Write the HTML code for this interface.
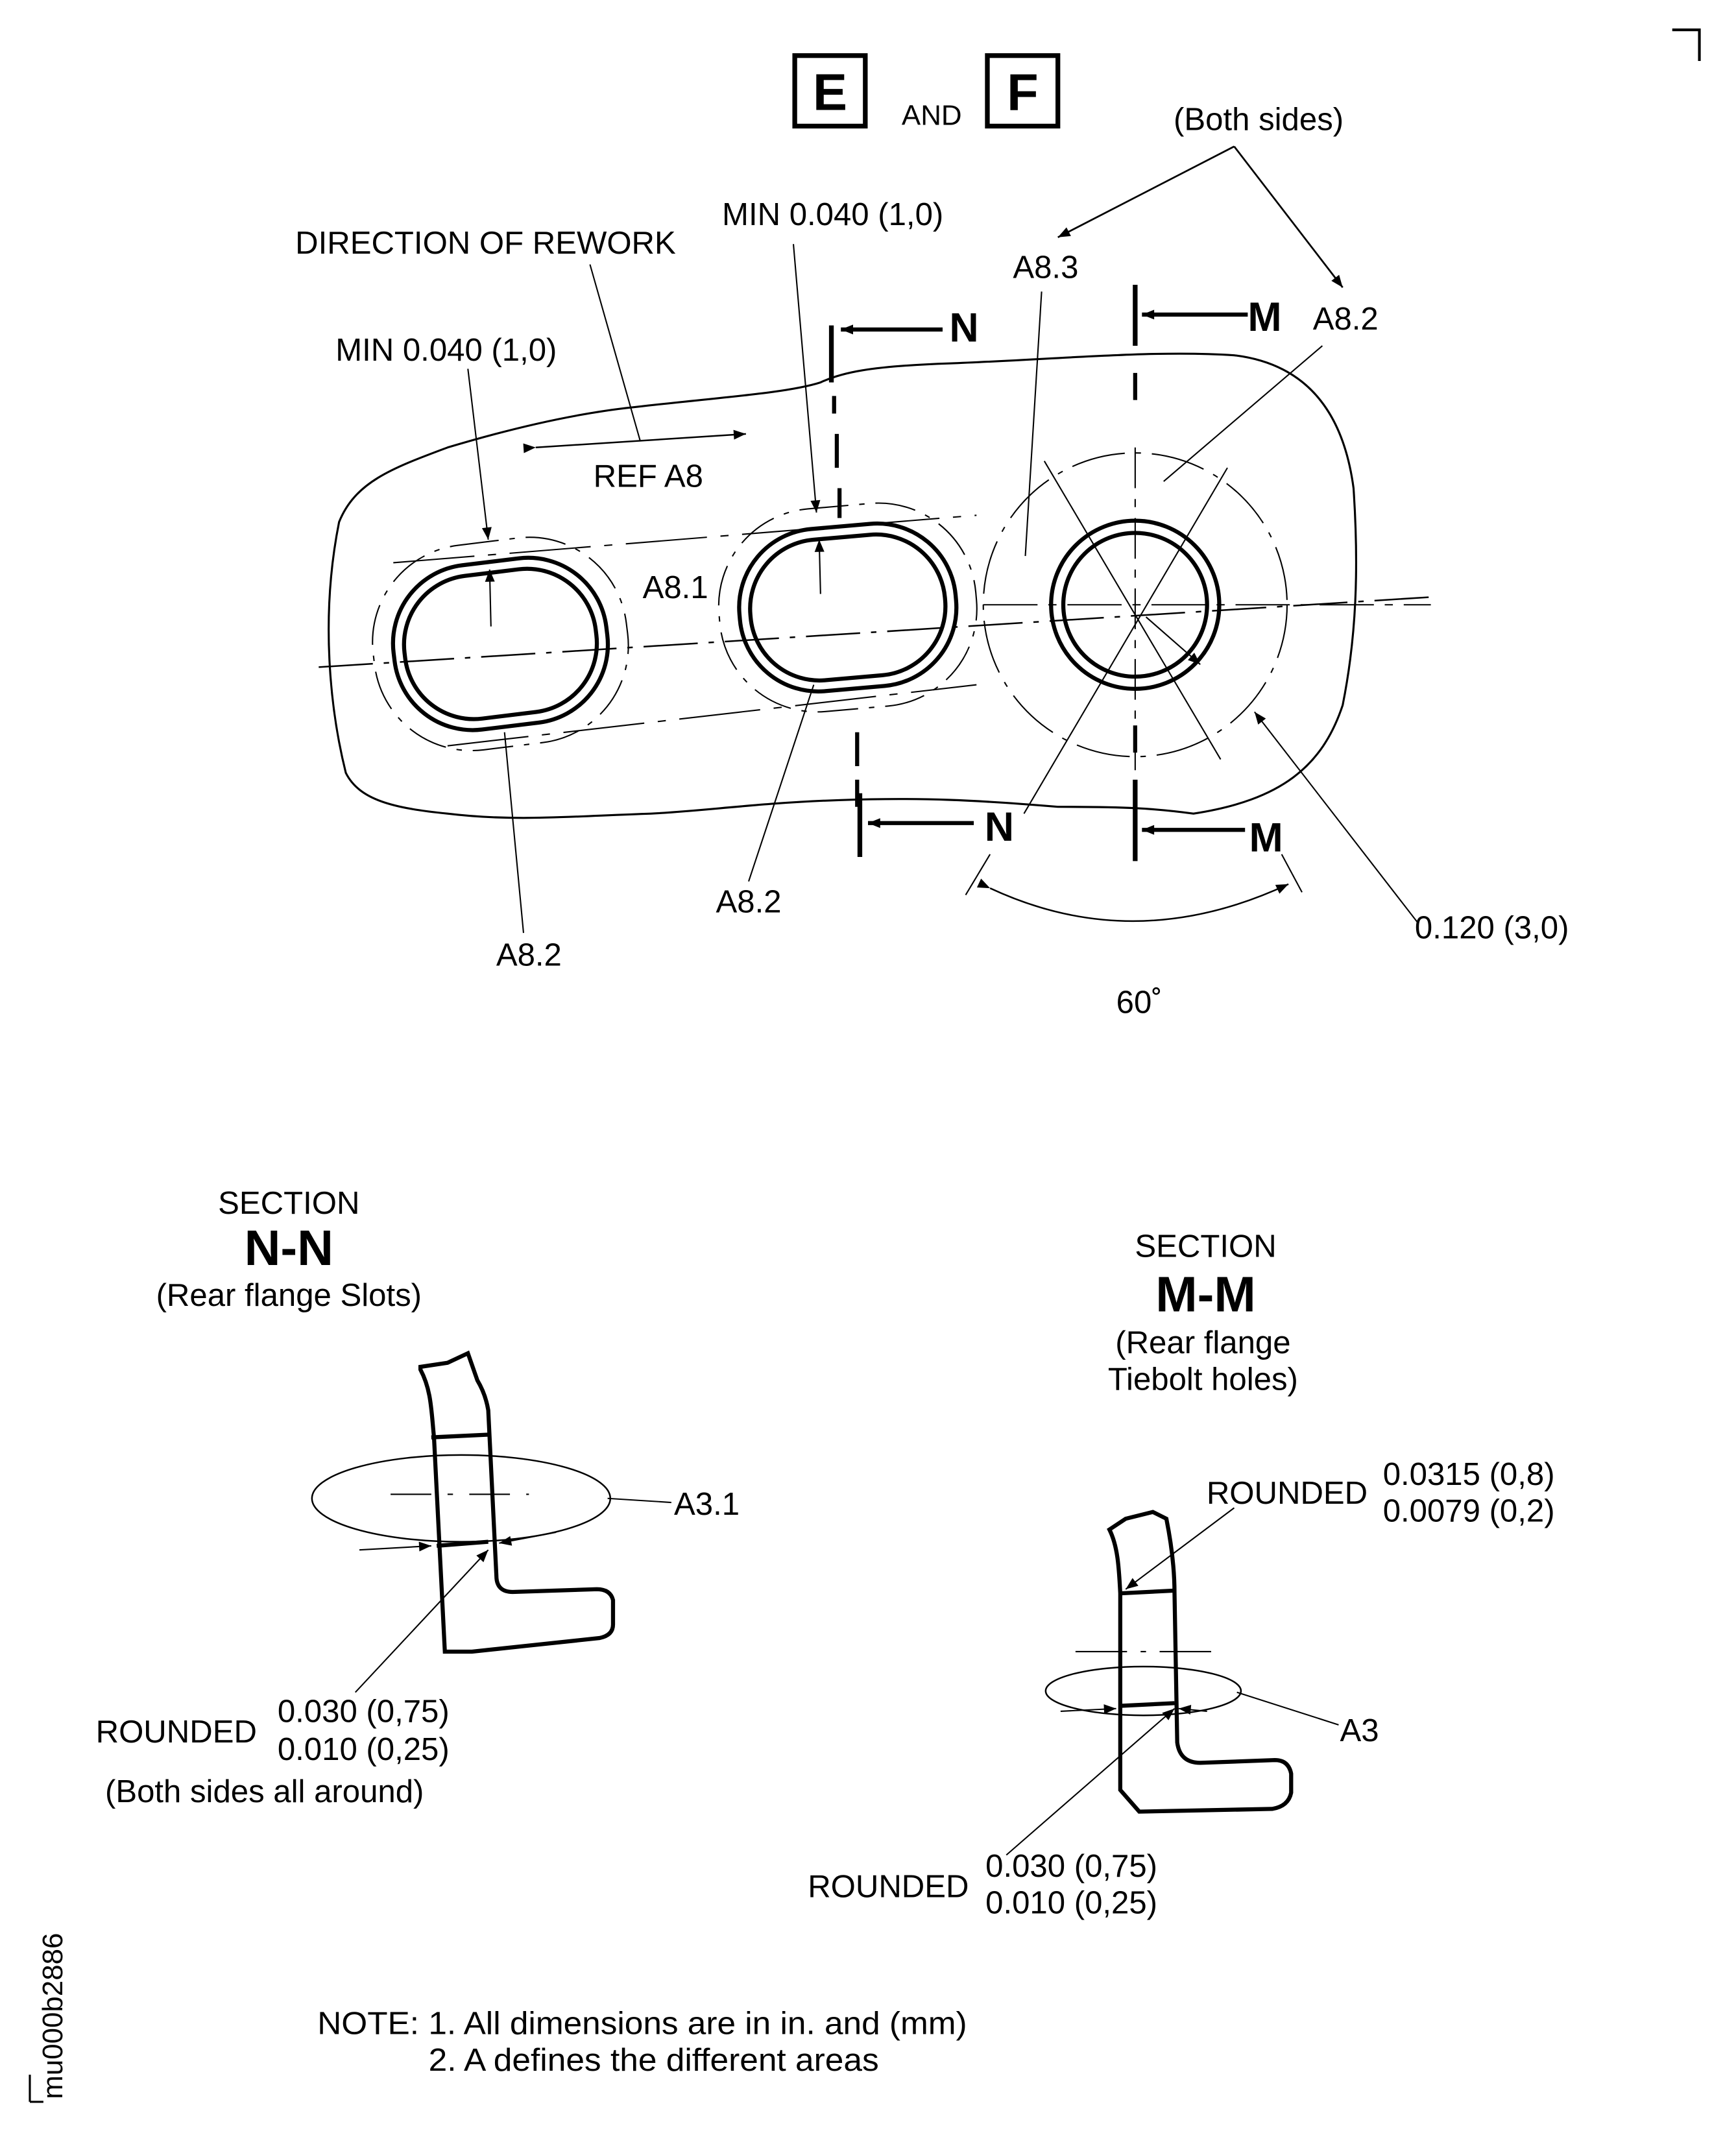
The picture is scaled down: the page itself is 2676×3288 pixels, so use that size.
<!DOCTYPE html>
<html><head><meta charset="utf-8"><style>
html,body{margin:0;padding:0;background:#fff}
svg{display:block}
text{font-family:"Liberation Sans",sans-serif;fill:#000}
</style></head><body>
<svg width="2676" height="3288" viewBox="0 0 1280 1573" preserveAspectRatio="none" xmlns="http://www.w3.org/2000/svg">
<defs>
<marker id="a" viewBox="0 0 10 10" refX="10" refY="5" markerWidth="18" markerHeight="9" markerUnits="userSpaceOnUse" orient="auto"><path d="M0,1 L10,5 L0,9 Z" fill="#000"/></marker>
</defs>
<g fill="none" stroke="#000">
<path d="M1233,22 H1253 V45" stroke-width="2"/>
<rect x="586" y="41" width="52" height="52" stroke-width="3.5"/>
<rect x="728" y="41" width="52" height="52" stroke-width="3.5"/>
<path d="M910,108 L780,175" stroke-width="1.3" marker-end="url(#a)"/>
<path d="M910,108 L990,212" stroke-width="1.3" marker-end="url(#a)"/>
<path d="M250,385 C262,355 290,345 330,330 C370,318 420,305 470,300 C530,293 580,290 605,282 C620,275 640,270 700,268 C780,265 850,258 910,262 C960,268 990,300 998,360 C1002,420 1000,470 990,520 C975,565 945,590 880,600 C850,596 830,595 780,595 C720,590 680,588 620,590 C560,592 520,598 480,600 C420,602 380,606 330,600 C290,596 265,590 255,570 C245,530 235,460 250,385 Z" stroke-width="1.5"/>
<g transform="rotate(-7 368 475)">
<rect x="290" y="414" width="158" height="122" rx="58" stroke-width="3"/>
<rect x="298" y="422" width="142" height="106" rx="51" stroke-width="3"/>
<rect x="275" y="399" width="188" height="152" rx="72" stroke-width="1" stroke-dasharray="30 8 4 8"/>
</g>
<g transform="rotate(-5 625 447)">
<rect x="545" y="388" width="160" height="120" rx="58" stroke-width="3"/>
<rect x="553" y="396" width="144" height="104" rx="51" stroke-width="3"/>
<rect x="530" y="373" width="190" height="150" rx="72" stroke-width="1" stroke-dasharray="30 8 4 8"/>
</g>
<path d="M235,492 L1060,440" stroke-width="1.2" stroke-dasharray="40 8 4 8"/>
<path d="M290,415 L720,380" stroke-width="1" stroke-dasharray="60 10 6 10"/>
<path d="M330,550 L720,505" stroke-width="1" stroke-dasharray="60 10 6 10"/>
<circle cx="837" cy="446" r="62" stroke-width="3"/>
<circle cx="837" cy="446" r="53" stroke-width="3"/>
<circle cx="837" cy="446" r="112" stroke-width="1" stroke-dasharray="40 8 4 8"/>
<path d="M725,446 H1055" stroke-width="1" stroke-dasharray="40 8 6 8"/>
<path d="M837,330 V570" stroke-width="1" stroke-dasharray="30 8 6 8"/>
<path d="M770,340 L900,560 M905,345 L755,600" stroke-width="1"/>
<path d="M845,455 L885,490" stroke-width="1" marker-end="url(#a)"/>
<path d="M1045,680 L925,525" stroke-width="1" marker-end="url(#a)"/>
<path d="M613,240 V282" stroke-width="3.5"/>
<path d="M615,292 V305 M617,320 V345 M619,360 V382" stroke-width="3"/>
<path d="M632,540 V565 M632,575 V595" stroke-width="3"/>
<path d="M634,585 V632" stroke-width="3.5"/>
<path d="M695,243 H620" stroke-width="3" marker-end="url(#a)"/>
<path d="M718,607 H640" stroke-width="3" marker-end="url(#a)"/>
<path d="M837,210 V255 M837,575 V635" stroke-width="3.5"/>
<path d="M837,275 V295 M837,535 V555" stroke-width="3"/>
<path d="M920,232 H842" stroke-width="3" marker-end="url(#a)"/>
<path d="M918,612 H842" stroke-width="3" marker-end="url(#a)"/>
<path d="M435,195 L472,325" stroke-width="1"/>
<path d="M395,330 L550,320" stroke-width="1.2" marker-start="url(#a)" marker-end="url(#a)"/>
<path d="M345,272 L360,398" stroke-width="1" marker-end="url(#a)"/>
<path d="M362,462 L361,420" stroke-width="1" marker-end="url(#a)"/>
<path d="M585,180 L602,378" stroke-width="1" marker-end="url(#a)"/>
<path d="M605,438 L604,398" stroke-width="1" marker-end="url(#a)"/>
<path d="M768,215 L756,410" stroke-width="1"/>
<path d="M975,255 L858,355" stroke-width="1"/>
<path d="M372,540 L386,688" stroke-width="1"/>
<path d="M600,505 L552,650" stroke-width="1"/>
<path d="M730,655 Q837,705 950,652" stroke-width="1.2" marker-start="url(#a)" marker-end="url(#a)"/>
<path d="M712,660 L730,630 M960,658 L945,630" stroke-width="1"/>

<path d="M310,1010 C318,1025 318,1040 320,1060 L328,1218 L348,1218 L442,1208 Q452,1206 452,1198 L452,1180 Q450,1172 440,1172 L378,1174 Q366,1174 366,1162 L360,1040 Q358,1028 352,1018 L345,998 L330,1005 L310,1008 Z" stroke-width="3"/>
<path d="M318,1060 L360,1058 M322,1140 L360,1137" stroke-width="3"/>
<ellipse cx="340" cy="1105" rx="110" ry="32" stroke-width="1.2"/>
<path d="M288,1102 H390" stroke-width="1" stroke-dasharray="30 12 4 12"/>
<path d="M448,1105 L495,1108" stroke-width="1"/>
<path d="M265,1143 L318,1140" stroke-width="1" marker-end="url(#a)"/>
<path d="M410,1130 L368,1138" stroke-width="1" marker-end="url(#a)"/>
<path d="M262,1248 L360,1143" stroke-width="1" marker-end="url(#a)"/>

<path d="M818,1128 C824,1140 825,1155 826,1175 L826,1320 L840,1336 L938,1334 Q950,1332 952,1322 L952,1308 Q950,1298 940,1298 L885,1300 Q870,1300 868,1285 L866,1175 Q866,1150 860,1120 L850,1115 L830,1120 Z" stroke-width="3"/>
<path d="M826,1175 L866,1173 M826,1258 L866,1256" stroke-width="3"/>
<path d="M793,1218 H900" stroke-width="1" stroke-dasharray="38 10 4 10"/>
<ellipse cx="843" cy="1247" rx="72" ry="18" stroke-width="1.2"/>
<path d="M912,1248 L987,1272" stroke-width="1"/>
<path d="M782,1262 L823,1260" stroke-width="1" marker-end="url(#a)"/>
<path d="M890,1262 L869,1260" stroke-width="1" marker-end="url(#a)"/>
<path d="M910,1112 L830,1172" stroke-width="1" marker-end="url(#a)"/>
<path d="M742,1368 L866,1260" stroke-width="1" marker-end="url(#a)"/>
<path d="M22,1550 V1530 M22,1550 H32" stroke-width="1.5"/>
</g>

<g font-size="23.5">
<text x="612" y="81" font-size="38" font-weight="bold" text-anchor="middle">E</text>
<text x="754" y="81" font-size="38" font-weight="bold" text-anchor="middle">F</text>
<text x="687" y="92" font-size="21" text-anchor="middle">AND</text>
<text x="928" y="96" text-anchor="middle">(Both sides)</text>
<text x="614" y="166" text-anchor="middle">MIN 0.040 (1,0)</text>
<text x="358" y="187" text-anchor="middle">DIRECTION OF REWORK</text>
<text x="771" y="205" text-anchor="middle">A8.3</text>
<text x="700" y="252" font-size="30" font-weight="bold">N</text>
<text x="920" y="244" font-size="30" font-weight="bold">M</text>
<text x="968" y="243">A8.2</text>
<text x="329" y="266" text-anchor="middle">MIN 0.040 (1,0)</text>
<text x="478" y="359" text-anchor="middle">REF A8</text>
<text x="498" y="441" text-anchor="middle">A8.1</text>
<text x="726" y="620" font-size="30" font-weight="bold">N</text>
<text x="921" y="628" font-size="30" font-weight="bold">M</text>
<text x="552" y="673" text-anchor="middle">A8.2</text>
<text x="1100" y="692" text-anchor="middle">0.120 (3,0)</text>
<text x="390" y="712" text-anchor="middle">A8.2</text>
<text x="840" y="747" text-anchor="middle">60˚</text>

<text x="213" y="895" text-anchor="middle">SECTION</text>
<text x="213" y="933" font-size="37" font-weight="bold" text-anchor="middle">N-N</text>
<text x="213" y="963" text-anchor="middle">(Rear flange Slots)</text>
<text x="497" y="1117">A3.1</text>
<text x="130" y="1285" text-anchor="middle">ROUNDED</text>
<text x="268" y="1270" text-anchor="middle">0.030 (0,75)</text>
<text x="268" y="1298" text-anchor="middle">0.010 (0,25)</text>
<text x="195" y="1329" text-anchor="middle">(Both sides all around)</text>

<text x="889" y="927" text-anchor="middle">SECTION</text>
<text x="889" y="967" font-size="37" font-weight="bold" text-anchor="middle">M-M</text>
<text x="887" y="998" text-anchor="middle">(Rear flange</text>
<text x="887" y="1025" text-anchor="middle">Tiebolt holes)</text>
<text x="949" y="1109" text-anchor="middle">ROUNDED</text>
<text x="1083" y="1095" text-anchor="middle">0.0315 (0,8)</text>
<text x="1083" y="1122" text-anchor="middle">0.0079 (0,2)</text>
<text x="988" y="1284">A3</text>
<text x="655" y="1399" text-anchor="middle">ROUNDED</text>
<text x="790" y="1384" text-anchor="middle">0.030 (0,75)</text>
<text x="790" y="1411" text-anchor="middle">0.010 (0,25)</text>

<text x="234" y="1500" textLength="479" lengthAdjust="spacingAndGlyphs">NOTE: 1. All dimensions are in in. and (mm)</text>
<text x="316" y="1527" textLength="332" lengthAdjust="spacingAndGlyphs">2. A defines the different areas</text>
<text transform="translate(46,1548) rotate(-90)" font-size="21">mu000b2886</text>
</g>
</svg>
</body></html>
